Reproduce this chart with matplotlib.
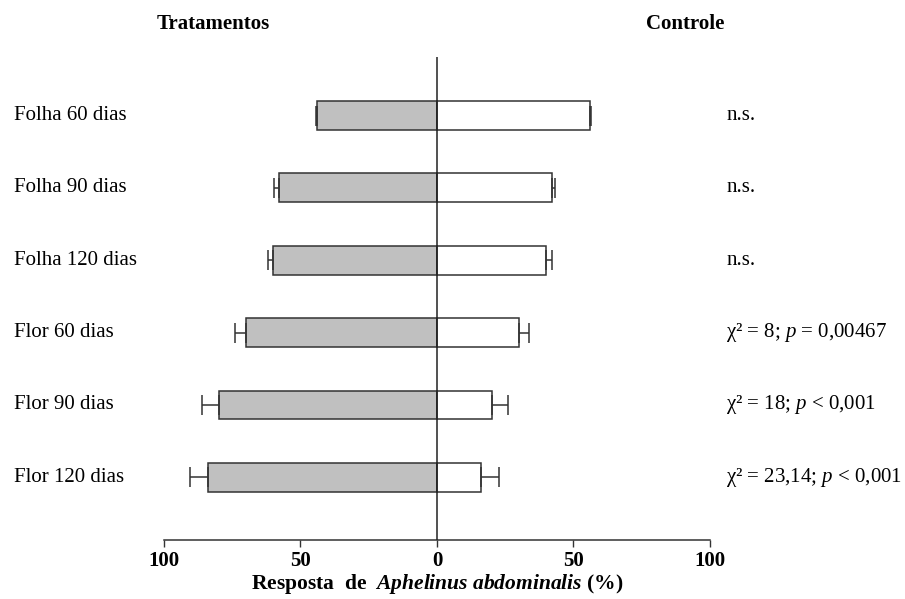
import numpy as np
import matplotlib
matplotlib.use("Agg")
import matplotlib.pyplot as plt

plt.rcParams["font.family"] = ["Liberation Serif", "DejaVu Serif"]
plt.rcParams["mathtext.fontset"] = "custom"
plt.rcParams["mathtext.rm"] = "Liberation Serif"
plt.rcParams["mathtext.it"] = "Liberation Serif:italic"
plt.rcParams["mathtext.bf"] = "Liberation Serif:bold"
plt.rcParams["mathtext.bfit"] = "Liberation Serif:italic:bold"

categories = ["Folha 60 dias", "Folha 90 dias", "Folha 120 dias",
              "Flor 60 dias", "Flor 90 dias", "Flor 120 dias"]
tratamento = [44, 58, 60, 70, 80, 84]
controle = [56, 42, 40, 30, 20, 16]
err_trat = [0.4, 1.6, 2.0, 4.0, 6.0, 6.6]
err_ctrl = [0.4, 1.4, 2.0, 3.8, 6.0, 6.8]
stats = ["n.s.", "n.s.", "n.s.",
         "χ² = 8; $p$ = 0,00467",
         "χ² = 18; $p$ < 0,001",
         "χ² = 23,14; $p$ < 0,001"]
tick_values = [-100, -50, 0, 50, 100]
tick_labels = ["100", "50", "0", "50", "100"]

fig = plt.figure(figsize=(9.05, 5.99), dpi=100)
ax = fig.add_axes([0.1812, 0.0993, 0.6033, 0.8055])

y = np.arange(len(categories))
trat = -np.array(tratamento)
ctrl = np.array(controle)
zeros = np.zeros(len(categories))

ax.barh(y, trat, height=0.4, color="#c0c0c0", edgecolor="#333333", linewidth=1.1, zorder=2)
ax.barh(y, ctrl, height=0.4, color="white", edgecolor="#333333", linewidth=1.1, zorder=2)
ax.errorbar(trat, y, xerr=[err_trat, zeros], fmt="none", ecolor="#333333",
            elinewidth=1.1, capsize=7, capthick=1.1, zorder=3)
ax.errorbar(ctrl, y, xerr=[zeros, err_ctrl], fmt="none", ecolor="#333333",
            elinewidth=1.1, capsize=7, capthick=1.1, zorder=3)
ax.axvline(0, color="#222222", linewidth=1.1, zorder=4)

ax.set_xlim(-100, 100)
ax.set_ylim(5.86, -0.81)
ax.set_xticks(tick_values)
ax.set_xticklabels(tick_labels, fontsize=15, fontweight="bold")
ax.tick_params(axis="x", length=5, width=1, color="#333333", pad=3)
ax.set_yticks([])
for side in ["left", "right", "top"]:
    ax.spines[side].set_visible(False)
ax.spines["bottom"].set_linewidth(1.1)
ax.spines["bottom"].set_color("#333333")

fig.text(437 / 905, 1 - 584 / 599,
         r"Resposta  de  $\mathbfit{Aphelinus\ abdominalis}$ (%)",
         fontsize=15.5, fontweight="bold", ha="center", va="center")

for yi, cat, st in zip(y, categories, stats):
    ax.text(-155, yi, cat, fontsize=15, ha="left", va="center", clip_on=False)
    ax.text(106, yi, st, fontsize=15, ha="left", va="center", clip_on=False)

ax.text(-82, -1.27, "Tratamentos", fontsize=15, fontweight="bold",
        ha="center", va="center", clip_on=False)
ax.text(91, -1.27, "Controle", fontsize=15, fontweight="bold",
        ha="center", va="center", clip_on=False)

fig.savefig("out.png", dpi=100)
